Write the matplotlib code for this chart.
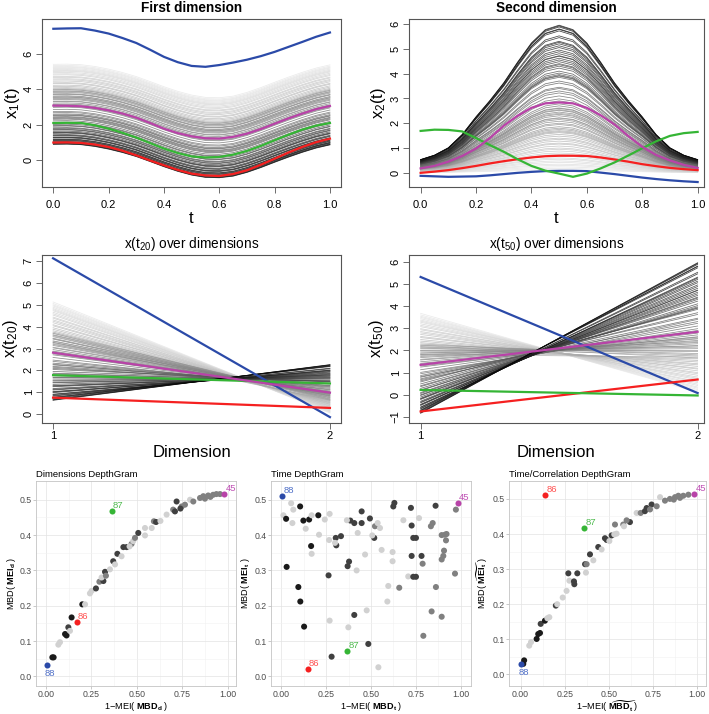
import numpy as np
import matplotlib
matplotlib.use('Agg')
import matplotlib.pyplot as plt

plt.rcParams['font.family'] = ['Liberation Sans', 'DejaVu Sans']
plt.rcParams['mathtext.fontset'] = 'custom'
plt.rcParams['mathtext.rm'] = 'Liberation Sans'
plt.rcParams['mathtext.bf'] = 'Liberation Sans:bold'
plt.rcParams['mathtext.it'] = 'Liberation Sans:italic'

# ---- functional data ----
t_grid = [0.0, 0.05, 0.1, 0.15, 0.2, 0.25, 0.3, 0.35, 0.4, 0.45, 0.5,
          0.55, 0.6, 0.65, 0.7, 0.75, 0.8, 0.85, 0.9, 0.95, 1.0]

# common shape of the first dimension (shift from value at t=0)
dip_shape = [0.00, 0.01, -0.02, -0.12, -0.27, -0.46, -0.69, -0.97, -1.26, -1.52, -1.73,
             -1.86, -1.88, -1.79, -1.58, -1.31, -1.01, -0.72, -0.45, -0.21, -0.03]
# common shape of the second dimension (fraction of the peak)
bump_shape = [0.09, 0.12, 0.17, 0.26, 0.38, 0.49, 0.61, 0.75, 0.88, 0.97, 1.00,
              0.97, 0.88, 0.75, 0.61, 0.49, 0.38, 0.26, 0.17, 0.12, 0.09]

# level of each ordinary curve in dim 1 at t=0 (ordered dark -> light)
x1_start = [0.90, 0.92, 0.95, 0.99, 1.02, 1.04, 1.09, 1.12, 1.16, 1.18, 1.25, 1.28,
            1.30, 1.37, 1.40, 1.44, 1.52, 1.55, 1.57, 1.63, 1.70, 1.73, 1.79, 1.83,
            1.92, 1.95, 2.02, 2.10, 2.14, 2.22, 2.31, 2.36, 2.45, 2.52, 2.60,
            2.41, 2.55, 2.68, 2.74, 2.86, 2.98, 3.03, 3.15, 3.22, 3.30, 3.41, 3.46,
            3.55, 3.62, 3.70, 3.74, 3.81, 3.90, 3.97, 3.50, 3.33, 3.88, 4.02, 3.60, 3.12,
            3.55, 3.72, 3.85, 3.96, 4.08, 4.15, 4.22, 4.31, 4.36, 4.45, 4.52, 4.58,
            4.66, 4.71, 4.80, 4.86, 4.93, 5.00, 5.05, 5.10, 5.16, 5.22, 5.27, 5.33, 5.40]
# peak of each ordinary curve in dim 2
x2_peak = [5.95, 5.92, 5.88, 5.80, 5.78, 5.72, 5.52, 5.45, 5.30, 5.26, 5.20, 5.12,
           5.05, 4.95, 4.88, 4.80, 4.72, 4.70, 4.62, 4.55, 4.48, 4.40, 4.36, 4.30,
           4.22, 4.10, 4.02, 3.96, 3.92, 3.90, 3.85, 3.70, 3.62, 3.45, 3.30,
           3.40, 3.22, 3.10, 2.98, 2.90, 2.78, 2.70, 2.60, 2.52, 2.45, 2.36, 2.30,
           2.22, 2.15, 2.08, 2.00, 1.95, 1.86, 1.80, 2.40, 2.55, 1.75, 1.66, 2.20, 2.62,
           1.70, 1.62, 1.55, 1.48, 1.40, 1.35, 1.28, 1.20, 1.16, 1.08, 1.00, 0.95,
           0.88, 0.80, 0.74, 0.68, 0.60, 0.55, 0.48, 0.42, 0.35, 0.30, 0.24, 0.18, 0.12]

# highlighted curves: 88 (blue), 86 (red), 87 (green), 45 (magenta)
c88_x1 = [7.40, 7.42, 7.43, 7.30, 7.13, 6.88, 6.60, 6.22, 5.82, 5.52, 5.31,
          5.26, 5.36, 5.50, 5.66, 5.86, 6.10, 6.38, 6.66, 6.95, 7.19]
c45_x1 = [3.08, 3.07, 3.04, 2.95, 2.81, 2.63, 2.40, 2.10, 1.78, 1.53, 1.35,
          1.24, 1.22, 1.32, 1.50, 1.76, 2.06, 2.36, 2.63, 2.88, 3.06]
c87_x1 = [2.10, 2.11, 2.10, 1.97, 1.78, 1.55, 1.28, 0.97, 0.66, 0.41, 0.22,
          0.16, 0.19, 0.32, 0.53, 0.81, 1.13, 1.44, 1.73, 1.95, 2.10]
c86_x1 = [1.00, 1.01, 0.98, 0.89, 0.75, 0.54, 0.28, -0.01, -0.28, -0.54, -0.75,
          -0.85, -0.88, -0.77, -0.56, -0.25, 0.09, 0.44, 0.75, 1.02, 1.22]

c88_x2 = [-0.12, -0.14, -0.16, -0.15, -0.14, -0.10, -0.05, 0.00, 0.04, 0.07, 0.08,
          0.08, 0.07, 0.01, -0.05, -0.12, -0.19, -0.25, -0.30, -0.34, -0.37]
c45_x2 = [0.18, 0.28, 0.45, 0.68, 0.98, 1.40, 1.90, 2.30, 2.62, 2.80, 2.84,
          2.80, 2.62, 2.32, 1.95, 1.48, 1.05, 0.72, 0.50, 0.32, 0.20]
c87_x2 = [1.69, 1.74, 1.73, 1.67, 1.40, 1.12, 0.85, 0.55, 0.28, 0.09, -0.03,
          -0.16, -0.03, 0.18, 0.42, 0.70, 0.99, 1.27, 1.49, 1.60, 1.65]
c86_x2 = [0.00, 0.05, 0.11, 0.19, 0.28, 0.38, 0.47, 0.55, 0.62, 0.67, 0.69,
          0.69, 0.68, 0.62, 0.54, 0.45, 0.35, 0.27, 0.20, 0.15, 0.11]

special_ids = ['88', '86', '87', '45']
line_colors = ['#2b4aa8', '#f52020', '#35b535', '#b843a8']
label_colors = ['#5070c8', '#ff5050', '#50bb50', '#c050b5']

# ---- DepthGram points ----
dims_x = [0.035, 0.042, 0.068, 0.077, 0.105, 0.113, 0.123, 0.132, 0.141, 0.2, 0.215, 0.242,
          0.251, 0.275, 0.294, 0.316, 0.325, 0.306, 0.352, 0.37, 0.38, 0.393, 0.416, 0.426,
          0.444, 0.471, 0.48, 0.49, 0.508, 0.545, 0.545, 0.594, 0.582, 0.606, 0.664, 0.7,
          0.719, 0.71, 0.747, 0.765, 0.793, 0.811, 0.848, 0.866, 0.893, 0.92, 0.938, 0.958,
          0.875, 0.905, 0.63, 0.74, 0.46, 0.33]
dims_y = [0.054, 0.054, 0.09, 0.097, 0.12, 0.116, 0.139, 0.129, 0.167, 0.204, 0.204, 0.235,
          0.242, 0.249, 0.268, 0.27, 0.296, 0.28, 0.303, 0.326, 0.317, 0.347, 0.34, 0.366,
          0.366, 0.375, 0.383, 0.392, 0.406, 0.42, 0.399, 0.439, 0.42, 0.437, 0.458, 0.472,
          0.495, 0.467, 0.481, 0.486, 0.5, 0.495, 0.505, 0.51, 0.512, 0.514, 0.516, 0.516,
          0.503, 0.508, 0.44, 0.475, 0.368, 0.285]
dims_shade = [.1, .1, .82, .82, .1, .1, .25, .82, .1, .1, .82, .82,
              .82, .25, .5, .25, .25, .82, .82, .25, .82, .25, .82, .25,
              .25, .5, .82, .5, .25, .82, .82, .5, .82, .25, .82, .5,
              .25, .25, .5, .5, .82, .5, .5, .5, .5, .5, .5, .5,
              .5, .5, .82, .25, .82, .5]
dims_special_x = [0.004, 0.168, 0.361, 0.98]
dims_special_y = [0.033, 0.155, 0.469, 0.517]

time_x = [0.056, 0.013, 0.068, 0.028, 0.063, 0.106, 0.124, 0.156, 0.207, 0.137, 0.17, 0.243,
          0.27, 0.211, 0.267, 0.304, 0.333, 0.307, 0.3, 0.167, 0.17, 0.031, 0.264, 0.37,
          0.378, 0.42, 0.467, 0.385, 0.366, 0.407, 0.448, 0.448, 0.494, 0.426, 0.522, 0.537,
          0.55, 0.518, 0.507, 0.096, 0.107, 0.128, 0.407, 0.476, 0.27, 0.374, 0.485, 0.281,
          0.541, 0.559, 0.62, 0.62, 0.596, 0.657, 0.591, 0.63, 0.624, 0.68, 0.722, 0.726,
          0.735, 0.75, 0.726, 0.707, 0.735, 0.75, 0.767, 0.781, 0.787, 0.791, 0.837, 0.833,
          0.843, 0.859, 0.861, 0.893, 0.902, 0.906, 0.893, 0.911, 0.92, 0.917, 0.893, 0.967,
          0.972]
time_y = [0.49, 0.456, 0.472, 0.446, 0.434, 0.481, 0.441, 0.444, 0.456, 0.418, 0.456, 0.444,
          0.46, 0.401, 0.386, 0.392, 0.397, 0.371, 0.378, 0.369, 0.347, 0.31, 0.286, 0.312,
          0.325, 0.3, 0.345, 0.441, 0.442, 0.434, 0.467, 0.434, 0.447, 0.406, 0.425, 0.434,
          0.42, 0.392, 0.399, 0.253, 0.212, 0.141, 0.174, 0.187, 0.158, 0.139, 0.092, 0.056,
          0.026, 0.358, 0.352, 0.326, 0.256, 0.251, 0.212, 0.491, 0.481, 0.442, 0.477, 0.427,
          0.392, 0.392, 0.341, 0.283, 0.282, 0.282, 0.448, 0.341, 0.319, 0.115, 0.184, 0.425,
          0.434, 0.483, 0.253, 0.331, 0.341, 0.356, 0.4, 0.401, 0.403, 0.385, 0.169, 0.291,
          0.472]
time_shade = [.82, .82, .82, .1, .82, .1, .1, .1, .1, .82, .82, .82,
              .82, .82, .82, .25, .25, .25, .82, .1, .82, .1, .25, .25,
              .25, .82, .82, .25, .82, .25, .25, .25, .25, .82, .5, .82,
              .82, .25, .82, .1, .1, .1, .25, .82, .82, .82, .25, .25,
              .82, .82, .82, .82, .82, .5, .82, .25, .25, .82, .25, .25,
              .25, .25, .25, .82, .25, .25, .82, .25, .5, .5, .5, .5,
              .5, .25, .5, .5, .5, .5, .5, .5, .5, .5, .5, .5,
              .5]
time_special_x = [0.004, 0.148, 0.369, 0.981]
time_special_y = [0.511, 0.022, 0.073, 0.492]

corr_x = [0.02, 0.015, 0.049, 0.059, 0.091, 0.1, 0.11, 0.114, 0.138, 0.152, 0.163, 0.2,
          0.208, 0.239, 0.261, 0.271, 0.277, 0.303, 0.322, 0.305, 0.371, 0.366, 0.375, 0.394,
          0.413, 0.441, 0.46, 0.479, 0.489, 0.504, 0.517, 0.532, 0.536, 0.545, 0.583, 0.587,
          0.621, 0.602, 0.659, 0.682, 0.706, 0.716, 0.744, 0.735, 0.773, 0.792, 0.82, 0.848,
          0.877, 0.896, 0.924, 0.953, 0.905, 0.87]
corr_y = [0.04, 0.03, 0.082, 0.092, 0.101, 0.115, 0.118, 0.144, 0.153, 0.16, 0.163, 0.196,
          0.2, 0.219, 0.238, 0.288, 0.267, 0.265, 0.288, 0.257, 0.29, 0.314, 0.314, 0.342,
          0.325, 0.363, 0.356, 0.388, 0.383, 0.38, 0.396, 0.399, 0.427, 0.401, 0.427, 0.422,
          0.434, 0.439, 0.46, 0.46, 0.465, 0.474, 0.484, 0.47, 0.479, 0.505, 0.495, 0.5,
          0.505, 0.509, 0.509, 0.512, 0.503, 0.498]
corr_shade = [.1, .1, .82, .82, .1, .1, .1, .25, .1, .82, .82, .25,
              .82, .82, .82, .25, .82, .25, .25, .25, .82, .25, .5, .25,
              .82, .25, .82, .25, .25, .82, .25, .82, .5, .82, .5, .82,
              .25, .5, .82, .5, .25, .25, .25, .5, .5, .82, .5, .5,
              .5, .5, .5, .5, .5, .5]
corr_special_x = [0.004, 0.138, 0.362, 0.985]
corr_special_y = [0.03, 0.51, 0.418, 0.515]

# ---- figure ----
W, H = 709, 714
fig = plt.figure(figsize=(W / 100, H / 100), dpi=100)


def px_axes(left, top, right, bottom):
    return fig.add_axes([left / W, 1 - bottom / H, (right - left) / W, (bottom - top) / H])


t = np.array(t_grid)
dip = np.array(dip_shape)
bump = np.array(bump_shape)
n = len(x1_start)
grays = [str(g) for g in np.linspace(0.03, 0.9, n)]
specials_x1 = [c88_x1, c86_x1, c87_x1, c45_x1]
specials_x2 = [c88_x2, c86_x2, c87_x2, c45_x2]


def r_style(ax, xpad, ypad):
    for s in ax.spines.values():
        s.set_linewidth(0.8)
        s.set_color('#555555')
    ax.tick_params(direction='out', length=4, width=0.6, labelsize=8, color='#555555')
    ax.tick_params(axis='x', pad=xpad)
    ax.tick_params(axis='y', pad=ypad)
    for lab in ax.get_yticklabels():
        lab.set_rotation(90)
        lab.set_va('center')


GL = dict(lw=0.55, alpha=0.8)

# top row: curves
ax1 = px_axes(42, 19, 341, 187)
ax2 = px_axes(409, 19, 704, 187)
for i in range(n - 1, -1, -1):
    ax1.plot(t, x1_start[i] + dip, color=grays[i], **GL)
    ax2.plot(t, x2_peak[i] * bump, color=grays[i], **GL)
for k in range(4):
    ax1.plot(t, specials_x1[k], color=line_colors[k], lw=1.6)
    ax2.plot(t, specials_x2[k], color=line_colors[k], lw=1.6)

ax1.set_xlim(-0.041, 1.040)
ax1.set_ylim(-1.5, 7.95)
ax1.set_xticks([0, 0.2, 0.4, 0.6, 0.8, 1.0])
ax1.set_xticklabels(['0.0', '0.2', '0.4', '0.6', '0.8', '1.0'])
ax1.set_yticks([0, 2, 4, 6])
ax1.set_title('First dimension', fontsize=9.8, fontweight='bold', pad=5)
ax1.set_xlabel('t', fontsize=12)
ax1.set_ylabel(r'$\mathregular{x_1(t)}$', fontsize=12, va='center')
ax1.xaxis.set_label_coords(0.5, -0.14)
ax1.yaxis.set_label_coords(-0.1, 0.5)
r_style(ax1, 5, 2)

ax2.set_xlim(-0.042, 1.023)
ax2.set_ylim(-0.57, 6.2)
ax2.set_xticks([0, 0.2, 0.4, 0.6, 0.8, 1.0])
ax2.set_xticklabels(['0.0', '0.2', '0.4', '0.6', '0.8', '1.0'])
ax2.set_yticks([0, 1, 2, 3, 4, 5, 6])
ax2.set_title('Second dimension', fontsize=9.8, fontweight='bold', pad=5)
ax2.set_xlabel('t', fontsize=12)
ax2.set_ylabel(r'$\mathregular{x_2(t)}$', fontsize=12, va='center')
ax2.xaxis.set_label_coords(0.5, -0.14)
ax2.yaxis.set_label_coords(-0.105, 0.5)
r_style(ax2, 5, 2)

# middle row: values at t20 and t50 over the two dimensions
i20 = t_grid.index(0.2)
i50 = t_grid.index(0.5)
ax3 = px_axes(42, 255, 341, 423)
ax4 = px_axes(409, 255, 704, 423)
for i in range(n - 1, -1, -1):
    ax3.plot([1, 2], [x1_start[i] + dip[i20], x2_peak[i] * bump[i20]], color=grays[i], **GL)
    ax4.plot([1, 2], [x1_start[i] + dip[i50], x2_peak[i] * bump[i50]], color=grays[i], **GL)
for k in range(4):
    ax3.plot([1, 2], [specials_x1[k][i20], specials_x2[k][i20]], color=line_colors[k], lw=1.6)
    ax4.plot([1, 2], [specials_x1[k][i50], specials_x2[k][i50]], color=line_colors[k], lw=1.6)

ax3.set_xlim(0.96, 2.04)
ax3.set_ylim(-0.41, 7.28)
ax3.set_xticks([1, 2])
ax3.set_yticks(range(0, 8))
ax3.set_title(r'x($\mathregular{t_{20}}$) over dimensions', fontsize=9.8, pad=5)
ax3.set_xlabel('Dimension', fontsize=12)
ax3.set_ylabel(r'$\mathregular{x(t_{20})}$', fontsize=12, va='center')
ax3.xaxis.set_label_coords(0.5, -0.13)
ax3.yaxis.set_label_coords(-0.105, 0.5)
r_style(ax3, 2, 2)

ax4.set_xlim(0.958, 2.023)
ax4.set_ylim(-1.27, 6.3)
ax4.set_xticks([1, 2])
ax4.set_yticks(range(-1, 7))
ax4.set_title(r'x($\mathregular{t_{50}}$) over dimensions', fontsize=9.8, pad=5)
ax4.set_xlabel('Dimension', fontsize=12)
ax4.set_ylabel(r'$\mathregular{x(t_{50})}$', fontsize=12, va='center')
ax4.xaxis.set_label_coords(0.5, -0.13)
ax4.yaxis.set_label_coords(-0.11, 0.5)
r_style(ax4, 2, 2)

# bottom row: DepthGrams (ggplot look)
panels = [
    ((36, 481, 236, 686), (-0.055, 1.046), (-0.027, 0.553), 'Dimensions DepthGram',
     dims_x, dims_y, dims_shade, dims_special_x, dims_special_y,
     r'1$-$MEI( $\mathbf{MBD_d}$ )', r'MBD( $\mathbf{MEI_d}$ )'),
    ((271, 481, 471, 686), (-0.056, 1.056), (-0.027, 0.553), 'Time DepthGram',
     time_x, time_y, time_shade, time_special_x, time_special_y,
     r'1$-$MEI( $\mathbf{MBD_t}$ )', r'MBD( $\mathbf{MEI_t}$ )'),
    ((509, 481, 706, 686), (-0.066, 1.053), (-0.033, 0.551), 'Time/Correlation DepthGram',
     corr_x, corr_y, corr_shade, corr_special_x, corr_special_y,
     r'1$-$MEI( $\widetilde{\mathbf{MBD_t}}$ )', r'MBD( $\widetilde{\mathbf{MEI_t}}$ )'),
]

for box, xl, yl, title, px, py, ps, sx, sy, xlab, ylab in panels:
    ax = px_axes(*box)
    ax.set_xlim(*xl)
    ax.set_ylim(*yl)
    ax.set_xticks([0, 0.25, 0.5, 0.75, 1.0])
    ax.set_xticklabels(['0.00', '0.25', '0.50', '0.75', '1.00'])
    ax.set_yticks([0, 0.1, 0.2, 0.3, 0.4, 0.5])
    ax.set_xticks([0.125, 0.375, 0.625, 0.875], minor=True)
    ax.set_yticks([0.05, 0.15, 0.25, 0.35, 0.45], minor=True)
    ax.grid(which='major', color='#e3e3e3', lw=0.5)
    ax.grid(which='minor', color='#f1f1f1', lw=0.4)
    ax.set_axisbelow(True)
    for s in ax.spines.values():
        s.set_color('#c4c4c4')
        s.set_linewidth(0.6)
    ax.tick_params(which='major', length=2, width=0.5, color='#b3b3b3',
                   labelsize=6.3, labelcolor='#4d4d4d', pad=1)
    ax.tick_params(which='minor', length=0)
    ax.scatter(px, py, s=19, c=[str(v) for v in ps], linewidths=0, zorder=3)
    for k in range(4):
        ax.scatter(sx[k], sy[k], s=19, c=line_colors[k], linewidths=0, zorder=4)
        if special_ids[k] == '88' and sy[k] < 0.2:
            ax.annotate('88', (sx[k], sy[k]), xytext=(2, -6.5), textcoords='offset points',
                        ha='center', va='center', fontsize=6.8, color=label_colors[k])
        else:
            ax.annotate(special_ids[k], (sx[k], sy[k]), xytext=(1, 4), textcoords='offset points',
                        ha='left', va='center', fontsize=6.8, color=label_colors[k])
    ax.set_title(title, loc='left', fontsize=6.8, pad=3)
    ax.set_xlabel(xlab, fontsize=6.6, labelpad=0.5)
    ax.set_ylabel(ylab, fontsize=6.6, labelpad=1.5)
    if 'widetilde' in xlab:
        ax.xaxis.label.set_va('bottom')
        ax.xaxis.set_label_coords(0.5, -0.135)

fig.savefig('out.png', dpi=100)
